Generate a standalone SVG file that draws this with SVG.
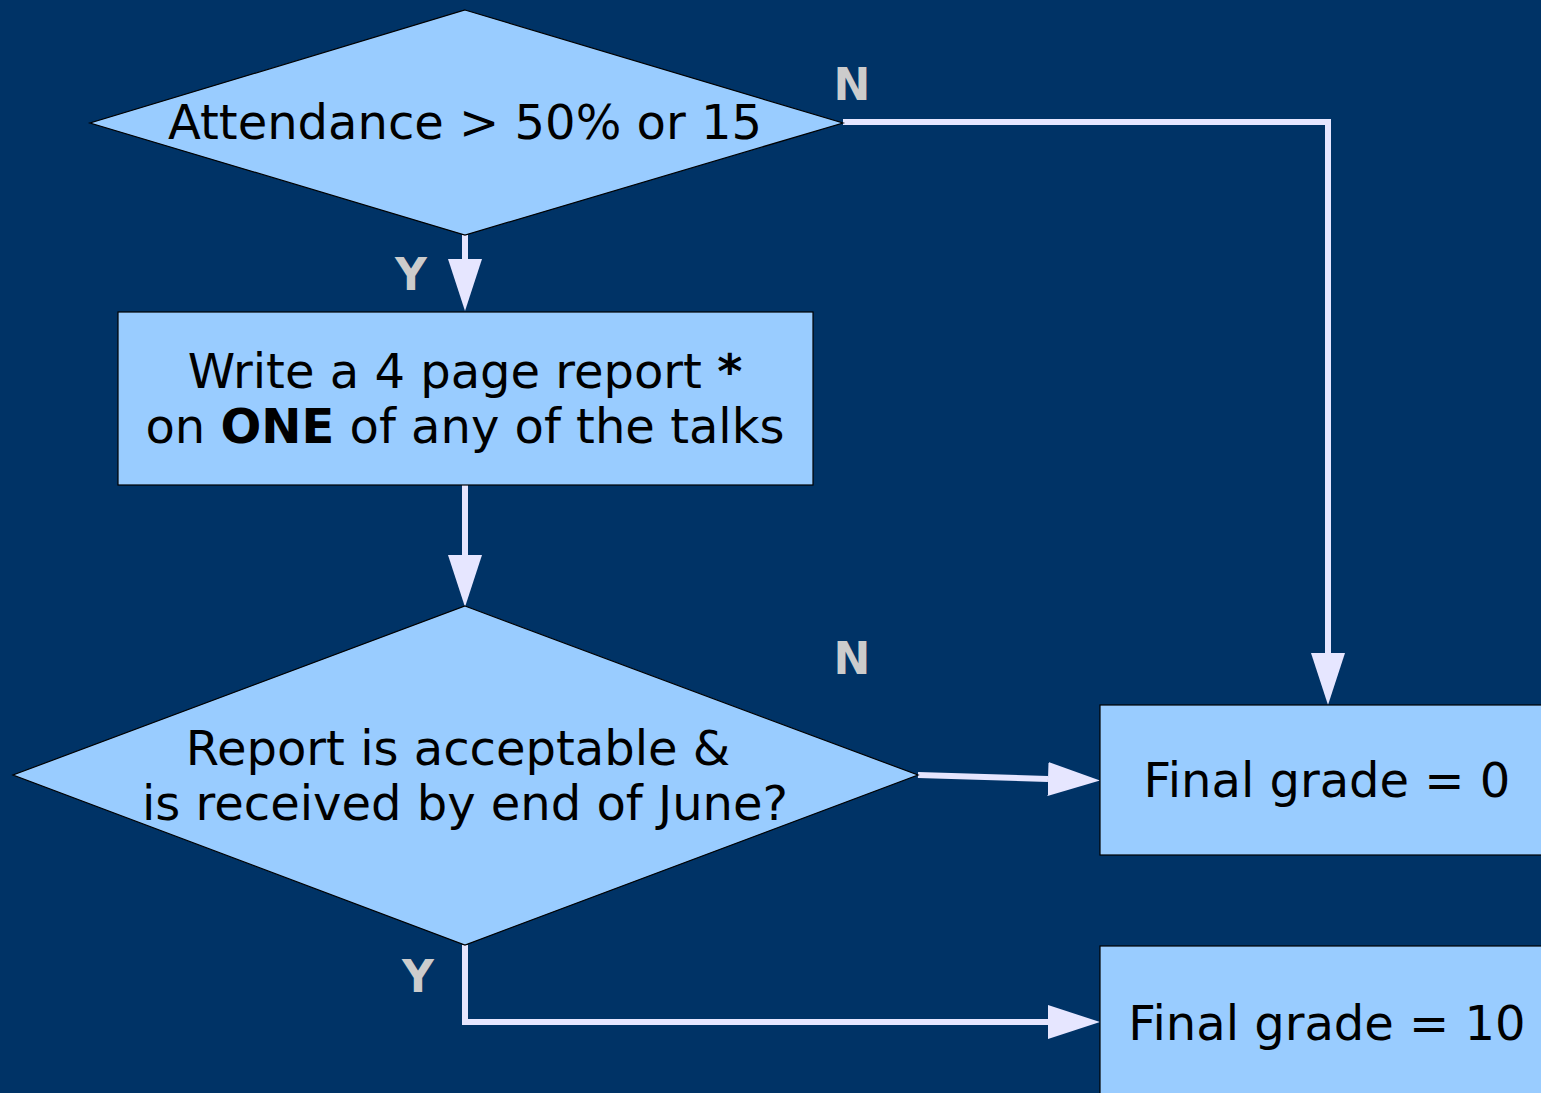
<svg xmlns="http://www.w3.org/2000/svg" width="1541" height="1093" viewBox="0 0 1541 1093">
<style>
.shape{fill:#99ccff;stroke:#000;stroke-width:1.2}
.t{font-family:"DejaVu Sans",sans-serif;font-size:48px;fill:#000;text-anchor:middle}
.lbl{font-family:"DejaVu Sans",sans-serif;font-size:44px;font-weight:bold;fill:#cccccc;text-anchor:middle}
.c{fill:none;stroke:#e6e6ff;stroke-width:6}
</style>
<defs>
<marker id="ah" markerUnits="userSpaceOnUse" markerWidth="52" markerHeight="36" refX="0" refY="17" orient="auto" viewBox="0 0 52 34">
<path d="M0,0 L52,17 L0,34 z" fill="#e6e6ff"/>
</marker>
</defs>
<rect width="1541" height="1093" fill="#003366"/>
<g id="connectors">
<path class="c" d="M465,235 V259" marker-end="url(#ah)"/>
<path class="c" d="M465,485 V555" marker-end="url(#ah)"/>
<path class="c" d="M843,122 H1328 V653" marker-end="url(#ah)"/>
<path class="c" d="M918,775 L1048,779" marker-end="url(#ah)"/>
<path class="c" d="M465,945 V1022 H1048" marker-end="url(#ah)"/>
<text class="lbl" x="852" y="100">N</text>
<text class="lbl" x="411" y="290">Y</text>
<text class="lbl" x="852" y="674">N</text>
<text class="lbl" x="418" y="992">Y</text>
</g>
<g id="attendance">
<polygon class="shape" points="465,10 843,123 465,235 90,123"/>
<text class="t" x="465" y="139">Attendance &gt; 50% or 15</text>
</g>
<g id="write-report">
<rect class="shape" x="118" y="312" width="695" height="173"/>
<text class="t" x="465" y="388">Write a 4 page report <tspan font-weight="bold">*</tspan></text>
<text class="t" x="465" y="443">on <tspan font-weight="bold">ONE</tspan> of any of the talks</text>
</g>
<g id="acceptable">
<polygon class="shape" points="465,606 918,775 465,945 13,775"/>
<text class="t" x="458" y="765">Report is acceptable &amp;</text>
<text class="t" x="465" y="820">is received by end of June?</text>
</g>
<g id="grade0">
<rect class="shape" x="1100" y="705" width="460" height="150"/>
<text class="t" x="1327" y="797">Final grade = 0</text>
</g>
<g id="grade10">
<rect class="shape" x="1100" y="946" width="460" height="160"/>
<text class="t" x="1327" y="1040">Final grade = 10</text>
</g>
</svg>
